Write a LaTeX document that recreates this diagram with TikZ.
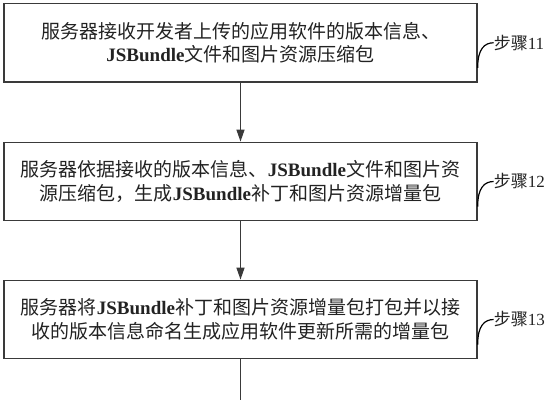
\documentclass[tikz,border=0pt]{standalone}
\usepackage{fontspec}
\setmainfont{Liberation Serif}
\newfontfamily\cjk{Noto Sans CJK SC}
\usetikzlibrary{arrows.meta,calc}
\newcommand\zh[1]{{\cjk #1}}
\newcommand\JSB{\textbf{JSBundle}}
\definecolor{ink}{HTML}{222222}
\definecolor{edge}{HTML}{3A3A3A}
\begin{document}
\begin{tikzpicture}[x=1pt,y=-1pt,
  stepbox/.style={draw=edge,line width=1.3pt,minimum width=473pt,minimum height=78.5pt,
    align=center,text=ink,inner sep=0pt,font=\fontsize{19}{23.5}\selectfont},
  flow/.style={draw=edge,line width=1.3pt,-{Triangle[width=8pt,length=12pt]}},
  leader/.style={draw=black,line width=1.2pt},
  steplabel/.style={anchor=west,inner sep=0pt,text=ink,font=\fontsize{17}{17}\selectfont}]
\useasboundingbox (0,0) rectangle (545,400);
\node[stepbox] (b1) at (240.5,42.75) {\zh{服务器接收开发者上传的应用软件的版本信息、}\\\JSB\zh{文件和图片资源压缩包}};
\node[stepbox] (b2) at (240.5,181.5) {\zh{服务器依据接收的版本信息、}\JSB\zh{文件和图片资}\\\zh{源压缩包，生成}\JSB\zh{补丁和图片资源增量包}};
\node[stepbox] (b3) at (240.5,319.5) {\zh{服务器将}\JSB\zh{补丁和图片资源增量包打包并以接}\\\zh{收的版本信息命名生成应用软件更新所需的增量包}};
\coordinate (end) at (240.5,400);
\draw[flow] (b1) -- (b2);
\draw[flow] (b2) -- (b3);
\draw[draw=edge,line width=1.3pt] (b3.south) -- (end);
\foreach \i/\n in {b1/11,b2/12,b3/13}{
  \node[steplabel] (l\n) at ([xshift=16pt]\i.east) {\zh{步骤}\n};
  \draw[leader] ([yshift=-25pt]\i.east) .. controls ([yshift=-6pt]\i.east) and ([xshift=-9pt]l\n.west) .. (l\n.west);
}
\end{tikzpicture}
\end{document}
